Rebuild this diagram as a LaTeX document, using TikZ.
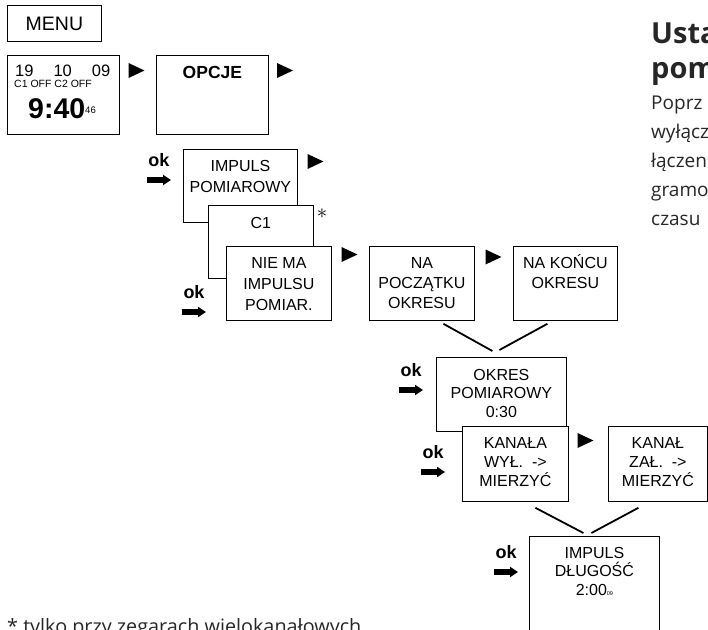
\documentclass[tikz,border=0pt]{standalone}
\usepackage{fontspec}
\setmainfont{Liberation Sans}
\newfontfamily\pagefont{Open Sans}
\usetikzlibrary{arrows.meta,calc}

% screen text: [leading] width, height, lines (top aligned)
\newcommand{\scrn}[4][20pt]{\parbox[t][#3][t]{#2}{\centering\baselineskip=#1\relax\rule{0pt}{22pt}#4}}

\begin{document}
\begin{tikzpicture}[x=1pt,y=-1pt,
  scr/.style={draw, fill=white, line width=0.8pt, inner sep=0pt, anchor=north west,
    font=\fontsize{16}{20}\selectfont},
  oklbl/.style={font=\bfseries\fontsize{18}{18}\selectfont, inner sep=0pt},
  okarr/.style={line width=6pt, -{Triangle[length=8pt,width=10pt]}},
  vline/.style={line width=1.8pt},
  pagetxt/.style={anchor=north west, inner sep=0pt, align=left, text=black!85},
  okmark/.pic={\node[oklbl] (-t) at (0,-10) {ok}; \draw[okarr] (-12,10) -- (12,10);},
  nxt/.pic={\fill (-8,-7.5) -- (8,0) -- (-8,7.5) -- cycle;}]
\useasboundingbox (0,0) rectangle (708,629);
\clip (0,0) rectangle (708,629);

% clock screens
\node[scr, minimum width=94pt, minimum height=36pt, font=\fontsize{19.5}{20}\selectfont] (menu) at (7,5) {MENU};
\node[scr, minimum width=112pt, minimum height=79pt] (clock) at (7,55) {};
\node[anchor=base west, inner sep=0pt, font=\fontsize{16.5}{17}\selectfont] (date) at (15,76.5) {19\hspace{20pt}10\hspace{20pt}09};
\node[anchor=base west, inner sep=0pt, font=\fontsize{10.5}{11}\selectfont] (chan) at (14,87) {C1 OFF C2 OFF};
\node[anchor=base west, inner sep=0pt, font=\bfseries\fontsize{28.5}{29}\selectfont] (time) at (28,118) {9:40\raisebox{5pt}{\mdseries\fontsize{9.5}{10}\selectfont 46}};
\node[scr] (opcje) at (156,55) {\scrn{112pt}{79pt}{{\bfseries\fontsize{17.5}{20}\selectfont\rule{0pt}{23.5pt}OPCJE}}};

\node[scr] (imppom) at (183,149) {\scrn[21pt]{114pt}{73pt}{IMPULS\\POMIAROWY}};
\node[scr] (c1) at (208,205) {\scrn{105pt}{73pt}{\rule{0pt}{23pt}C1}};
\node[scr] (niema) at (226,246) {\scrn[21pt]{105pt}{74pt}{NIE MA\\IMPULSU\\POMIAR.}};
\node[scr] (napocz) at (369,246) {\scrn{105pt}{74pt}{NA\\POCZĄTKU\\OKRESU}};
\node[scr] (nakoncu) at (513,246) {\scrn{104pt}{74pt}{NA KOŃCU\\OKRESU}};
\node[scr] (okres) at (436,357) {\scrn[18.5pt]{130pt}{74pt}{\rule{0pt}{23pt}OKRES\\POMIAROWY\\0:30}};
\node[scr] (kanala) at (462,426) {\scrn[19pt]{106pt}{75pt}{KANAŁA\\WYŁ.\ \ ->\\MIERZYĆ}};
\node[scr] (kanal) at (608,426) {\scrn[19pt]{99pt}{75pt}{KANAŁ\\ZAŁ.\ \ ->\\MIERZYĆ}};
\node[scr] (impdl) at (529,536) {\scrn[18.5pt]{130pt}{100pt}{IMPULS\\DŁUGOŚĆ\\2:00{\fontsize{5.5}{6}\selectfont 09}}};
\node[inner sep=0pt, font=\fontsize{20}{20}\selectfont] (star) at (322,214) {$\ast$};

% next / ok marks
\pic (t1) at (136.5,70.5) {nxt};
\pic (t2) at (285,70.5) {nxt};
\pic (t3) at (315.5,161.5) {nxt};
\pic (t4) at (349.5,254.5) {nxt};
\pic (t5) at (493.5,257) {nxt};
\pic (t6) at (585.5,440.5) {nxt};
\pic (ok1) at (159,170) {okmark};
\pic (ok2) at (194,302) {okmark};
\pic (ok3) at (411,380) {okmark};
\pic (ok4) at (433,462) {okmark};
\pic (ok5) at (506,562) {okmark};

\draw[vline] ($(napocz.south)+(21.5,3)$) -- ($(okres.north)+(-9,-6)$);
\draw[vline] ($(nakoncu.south)+(-18,3)$) -- ($(okres.north)+(-2,-7)$);
\draw[vline] ($(kanala.south)+(20,6)$) -- ($(impdl.north)+(-11,-3)$);
\draw[vline] ($(kanal.south)+(-19.5,6)$) -- ($(impdl.north)+(-3,-3)$);

% page text
\node[pagetxt, font=\pagefont\bfseries\fontsize{29}{35}\selectfont] (title) at (651,23) {Usta\\pom};
\node[pagetxt, font=\pagefont\fontsize{19}{29}\selectfont] (body) at (651,96) {Poprz\\wyłącz\\łączen\\gramo\\czasu};
\node[anchor=base west, inner sep=0pt, text=black!85, font=\pagefont\fontsize{19.8}{22}\selectfont] (note) at (7,633) {* tylko przy zegarach wielokanałowych};
\end{tikzpicture}
\end{document}
